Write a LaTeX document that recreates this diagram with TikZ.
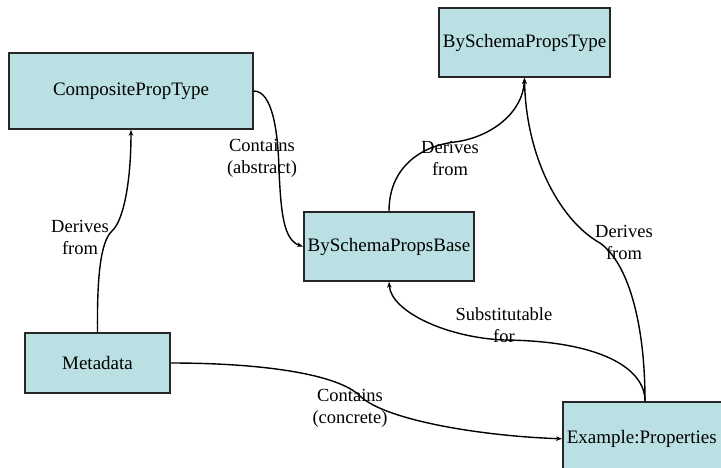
\documentclass[tikz,border=0pt]{standalone}
\usepackage{fontspec}
\setmainfont{Liberation Serif}
\usetikzlibrary{arrows.meta, positioning}
\definecolor{boxfill}{RGB}{186,224,227}

\tikzset{
  typebox/.style={draw=black!85, line width=1.6pt, fill=boxfill, inner sep=4pt,
    font=\fontsize{19}{22}\selectfont},
  link/.style={line width=1.4pt, -{Stealth[length=6pt,width=4.5pt]}},
  linklbl/.style={align=center, inner sep=0pt, font=\fontsize{18.5}{22}\selectfont}
}

\begin{document}
\begin{tikzpicture}[x=1pt,y=-1pt]
		\useasboundingbox (0,0) rectangle (721,467);
		\clip (0,0) rectangle (721,467);
		\draw (131,91)  node[typebox, minimum width=244pt, minimum height=76pt] (comp) {CompositePropType}
		(524.5,42.5)    node[typebox, minimum width=167pt, minimum height=69pt] (bstype) {BySchemaPropsType}
		(389,246.5)     node[typebox, minimum width=168pt, minimum height=69pt] (bsbase) {BySchemaPropsBase}
		(97.5,363)      node[typebox, minimum width=145pt, minimum height=60pt] (meta) {Metadata}
		(562,401)       node[typebox, anchor=north west, minimum height=74pt, text width=170pt, align=left] (exprops) {Example:Properties};
		\coordinate (extop) at ([xshift=83pt]exprops.north west);

		% connectors
		\draw[link] (meta.north) .. controls (97,280) and (100,242) .. (112,231)
		  .. controls (124,220) and (131,180) .. (comp.south);
		\draw[link] (comp.east) .. controls (272,91) and (278,130) .. (279,170)
		  .. controls (281,215) and (284,240) .. (bsbase.west);
		\draw[link] (bsbase.north) .. controls (389,168) and (420,146) .. (455,142)
		  .. controls (492,137) and (523,112) .. (bstype.south);
		\draw[link] (extop) .. controls (645,320) and (627,262) .. (600,243)
		  .. controls (562,222) and (526,160) .. (bstype.south);
		\draw[link] (extop) .. controls (645,368) and (600,341) .. (505,340)
		  .. controls (448,338) and (391,312) .. (bsbase.south);
		\draw[link] (meta.east) .. controls (262,363) and (338,374) .. (360,396)
		  .. controls (385,420) and (480,436) .. (exprops.west);

		% labels
		\node[linklbl] (lbla) at (80,237) {Derives\\from};
		\node[linklbl] (lblb) at (262,158) {Contains\\(abstract)};
		\node[linklbl] (lblc) at (450,158) {Derives\\from};
		\node[linklbl] (lbld) at (624,242) {Derives\\from};
		\node[linklbl] (lble) at (504,325) {Substitutable\\for};
		\node[linklbl] (lblf) at (350,408) {Contains\\(concrete)};
	\end{tikzpicture}
\end{document}
